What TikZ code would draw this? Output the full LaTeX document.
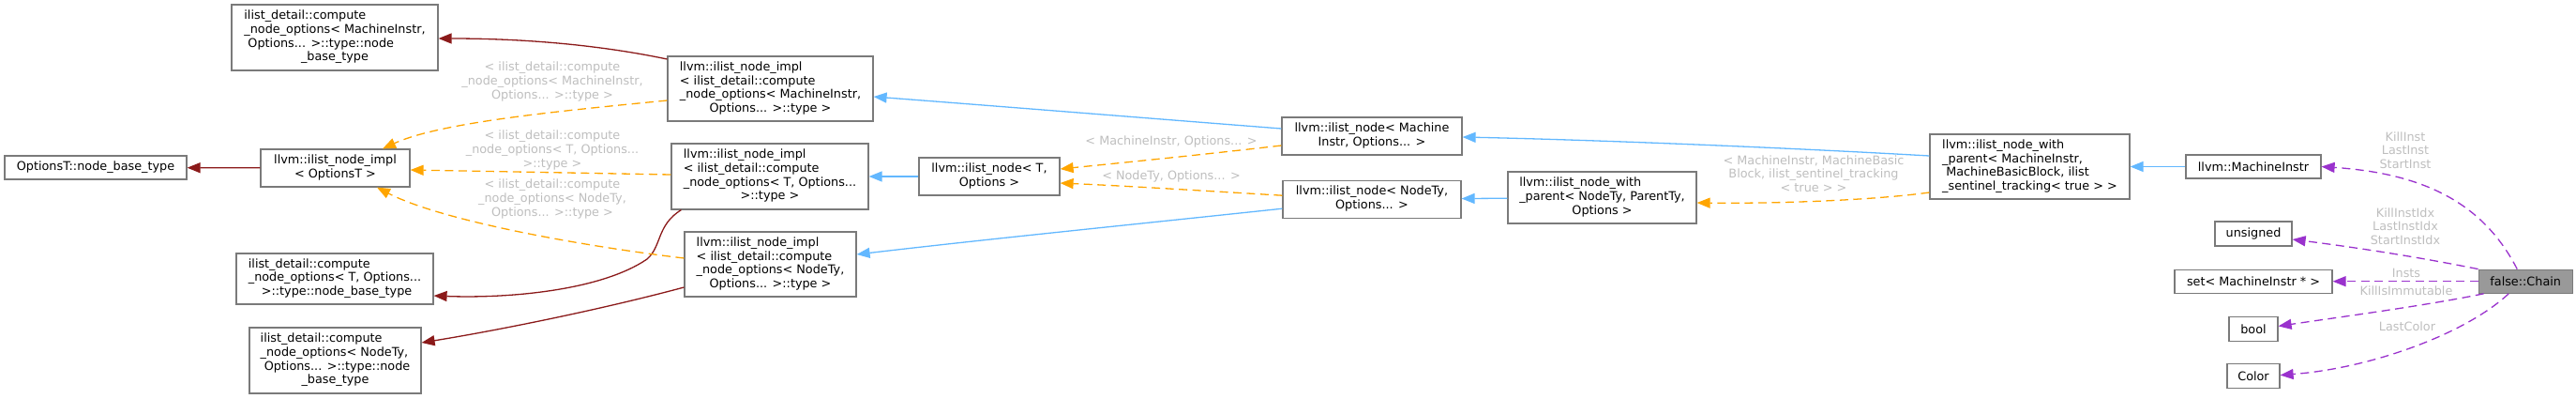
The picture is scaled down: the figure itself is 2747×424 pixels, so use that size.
\documentclass[tikz,border=0pt]{standalone}
\usepackage{fontspec}
\setmainfont{DejaVu Sans}
\usepackage{xcolor}
\usepackage{tikz}
\usetikzlibrary{arrows.meta, positioning, calc}
\definecolor{edgeblue}{HTML}{63B8FF}
\definecolor{edgered}{HTML}{8B1A1A}
\definecolor{edgeorange}{HTML}{FFA500}
\definecolor{edgepurple}{HTML}{9A32CD}
\definecolor{boxborder}{HTML}{7A7A7A}
\definecolor{rootfill}{HTML}{999999}
\definecolor{labelgrey}{HTML}{BEBEBE}
\newcommand{\dxfont}{\fontsize{12.8}{14.7}\selectfont}
\newcommand{\dxlines}[2]{\begin{tabular}{@{}l@{}}#1\\\multicolumn{1}{@{}c@{}}{#2}\end{tabular}}
\tikzstyle{cls} = [rectangle, draw=boxborder, fill=white, line width=1.2pt, inner sep=0pt, font=\dxfont]
\tikzstyle{root} = [cls, fill=rootfill]
\tikzstyle{elabel} = [font=\dxfont, text=labelgrey, align=center, inner sep=0pt]
\tikzstyle{pub} = [line width=1.3pt, -{Triangle[length=14pt,width=11pt]}, color=edgeblue]
\tikzstyle{priv} = [line width=1.3pt, -{Triangle[length=14pt,width=11pt]}, color=edgered]
\tikzstyle{tmpl} = [line width=1.3pt, -{Triangle[length=14pt,width=11pt]}, dash pattern=on 9pt off 5.5pt, color=edgeorange]
\tikzstyle{usage} = [line width=1.3pt, -{Triangle[length=14pt,width=11pt]}, dash pattern=on 9pt off 5.5pt, color=edgepurple]

\begin{document}
\begin{tikzpicture}[x=1pt, y=-1pt]
    \useasboundingbox (0,0) rectangle (2747,424);

    % Nodes
    \node (nbt) [cls, minimum width=194pt, minimum height=25pt] at (102,178.5) {OptionsT::node\_base\_type};
    \node (implT0) [cls, minimum width=159pt, minimum height=40pt] at (357.5,179) {\dxlines{llvm::ilist\_node\_impl}{< OptionsT >}};
    \node (cmpmi) [cls, minimum width=220pt, minimum height=70pt] at (357,40) {\dxlines{ilist\_detail::compute\\\_node\_options< MachineInstr,\\\ Options... >::type::node}{\_base\_type}};
    \node (cmpt) [cls, minimum width=210pt, minimum height=54pt] at (357,297) {\dxlines{ilist\_detail::compute\\\_node\_options< T, Options...}{\ >::type::node\_base\_type}};
    \node (cmpnt) [cls, minimum width=183pt, minimum height=70pt] at (357.5,384) {\dxlines{ilist\_detail::compute\\\_node\_options< NodeTy,\\\ Options... >::type::node}{\_base\_type}};

    \node (implmi) [cls, minimum width=219pt, minimum height=69pt] at (821.5,94.5) {\dxlines{llvm::ilist\_node\_impl\\< ilist\_detail::compute\\\_node\_options< MachineInstr,}{Options... >::type >}};
    \node (implt) [cls, minimum width=210pt, minimum height=70pt] at (821,188) {\dxlines{llvm::ilist\_node\_impl\\< ilist\_detail::compute\\\_node\_options< T, Options...}{>::type >}};
    \node (implnt) [cls, minimum width=183pt, minimum height=69pt] at (821.5,281.5) {\dxlines{llvm::ilist\_node\_impl\\< ilist\_detail::compute\\\_node\_options< NodeTy,}{Options... >::type >}};

    \node (nodet) [cls, minimum width=150pt, minimum height=40pt] at (1055,188) {\dxlines{llvm::ilist\_node< T,}{Options >}};
    \node (nodemi) [cls, minimum width=192pt, minimum height=40pt] at (1463,145) {\dxlines{llvm::ilist\_node< Machine}{Instr, Options... >}};
    \node (nodent) [cls, minimum width=190pt, minimum height=40pt, below=26pt of nodemi] {\dxlines{llvm::ilist\_node< NodeTy,}{Options... >}};
    \node (wpnt) [cls, minimum width=201pt, minimum height=55pt] at (1708.5,210.5) {\dxlines{llvm::ilist\_node\_with\\\_parent< NodeTy, ParentTy,}{Options >}};
    \node (wpmi) [cls, minimum width=213pt, minimum height=69pt] at (2164.5,177.5) {\dxlines{llvm::ilist\_node\_with\\\_parent< MachineInstr,\\\ MachineBasicBlock, ilist}{\_sentinel\_tracking< true > >}};

    \node (mi) [cls, minimum width=144pt, minimum height=25pt] at (2403,177.5) {llvm::MachineInstr};
    \node (uns) [cls, minimum width=82pt, minimum height=26pt] at (2403,249) {unsigned};
    \node (setmi) [cls, minimum width=168pt, minimum height=25pt, below=24pt of uns] {set< MachineInstr * >};
    \node (bool) [cls, minimum width=52pt, minimum height=26pt, below=24pt of setmi] {bool};
    \node (color) [cls, minimum width=56pt, minimum height=26pt, below=23pt of bool] {Color};
    \node (chain) [root, minimum width=100pt, minimum height=25pt, right=155pt of setmi] {false::Chain};

    % Labels
    \node (lblcmi) [elabel] at (589,87) {< ilist\_detail::compute\\\_node\_options< MachineInstr,\\Options... >::type >};
    \node (lblct) [elabel] at (589,160) {< ilist\_detail::compute\\\_node\_options< T, Options...\\>::type >};
    \node (lblcnt) [elabel] at (589,212) {< ilist\_detail::compute\\\_node\_options< NodeTy,\\Options... >::type >};
    \node (lblmi) [elabel] at (1249,151) {< MachineInstr, Options... >};
    \node (lblnt) [elabel] at (1249,188) {< NodeTy, Options... >};
    \node (lblwp) [elabel] at (1934,185) {< MachineInstr, MachineBasic\\Block, ilist\_sentinel\_tracking\\< true > >};
    \node (lblinst) [elabel] at (2565,160) {KillInst\\LastInst\\StartInst};
    \node (lblidx) [elabel] at (2565,241) {KillInstIdx\\LastInstIdx\\StartInstIdx};
    \node (lblinsts) [elabel] at (2566,291) {Insts};
    \node (lblimm) [elabel] at (2566,310) {KillIsImmutable};
    \node (lblcol) [elabel] at (2567,348) {LastColor};

    % Arrows
    \draw [priv] (implT0) -- (nbt);
    \draw [priv] ($(implmi.west)+(0,-31.5)$) .. controls (640,48) and (560,41) .. ($(cmpmi.east)+(0,1)$);
    \draw [priv] ($(implt.south west)+(11,0)$) .. controls (700,240) and (706,262) .. (690,276) .. controls (640,310) and (540,318) .. ($(cmpt.east)+(0,18)$);
    \draw [priv] ($(implnt.west)+(0,24.5)$) .. controls (640,330) and (530,352) .. ($(cmpnt.east)+(0,-19)$);

    \draw [tmpl] ($(implmi.west)+(0,12.5)$) .. controls (600,118) and (470,130) .. ($(implT0.north)+(50.5,0)$);
    \draw [tmpl] ($(implt.west)+(0,-2)$) -- ($(implT0.east)+(0,2)$);
    \draw [tmpl] ($(implnt.west)+(0,-6.5)$) .. controls (620,262) and (470,235) .. ($(implT0.south)+(44.5,0)$);

    \draw [pub] (nodet) -- (implt);
    \draw [pub] ($(nodemi.west)+(0,-8)$) .. controls (1200,124) and (1050,112) .. ($(implmi.east)+(0,8.5)$);
    \draw [pub] ($(nodent.west)+(0,10)$) .. controls (1200,240) and (1050,255) .. ($(implnt.east)+(0,-10.5)$);

    \draw [tmpl] ($(nodemi.west)+(0,10)$) .. controls (1280,165) and (1200,173) .. ($(nodet.east)+(0,-8)$);
    \draw [tmpl] ($(nodent.west)+(0,-4)$) .. controls (1280,203) and (1200,198) .. ($(nodet.east)+(0,7)$);

    \draw [pub] (wpnt) -- (nodent);
    \draw [pub] ($(wpmi.west)+(0,-11.5)$) .. controls (1900,157) and (1700,149) .. ($(nodemi.east)+(0,1)$);
    \draw [tmpl] ($(wpmi.west)+(0,27.5)$) .. controls (2000,213) and (1900,217) .. ($(wpnt.east)+(0,5.5)$);
    \draw [pub] (mi) -- (wpmi);

    \draw [usage] ($(chain.north)+(-9,0)$) .. controls (2650,220) and (2590,185) .. (mi.east);
    \draw [usage] (chain.north west) .. controls (2570,272) and (2500,262) .. ($(uns.east)+(0,6)$);
    \draw [usage] (chain) -- (setmi);
    \draw [usage] ($(chain.south west)+(6,0)$) .. controls (2590,325) and (2500,337) .. ($(bool.east)+(0,-3)$);
    \draw [usage] ($(chain.south)+(-18,0)$) .. controls (2630,355) and (2530,392) .. ($(color.east)+(0,-1)$);
\end{tikzpicture}
\end{document}
